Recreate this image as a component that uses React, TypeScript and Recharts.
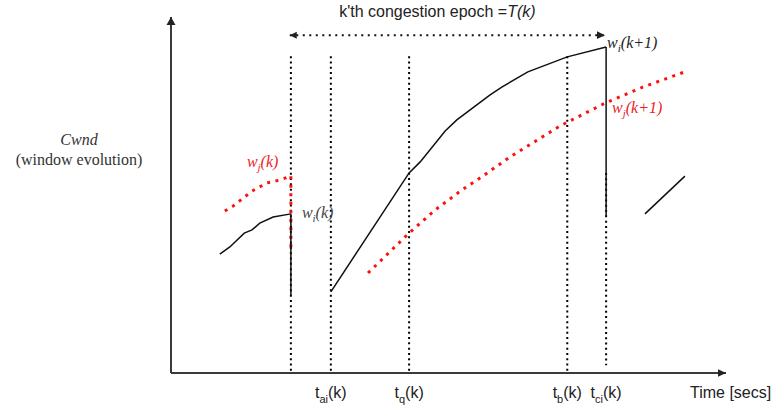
import React from 'react';
import { ComposedChart, Line, XAxis, YAxis, Scatter, ReferenceDot } from 'recharts';

// ---- data (time units 0..100, cwnd units 0..100) ----
const wiPrev = [
  { x: 8.8, y: 33.4 }, { x: 10.6, y: 35.4 }, { x: 13.2, y: 39.3 }, { x: 14.6, y: 40.2 },
  { x: 16.0, y: 42.1 }, { x: 18.4, y: 43.8 }, { x: 21.6, y: 44.7 },
];
const wiPrevDrop = [{ x: 21.6, y: 44.7 }, { x: 21.6, y: 21.9 }];
const wiEpoch = [
  { x: 28.8, y: 22.8 }, { x: 42.9, y: 56.2 }, { x: 44.9, y: 59.3 }, { x: 49.4, y: 68.0 },
  { x: 51.5, y: 71.1 }, { x: 57.5, y: 78.1 }, { x: 59.6, y: 80.3 }, { x: 64.3, y: 84.6 },
  { x: 71.4, y: 88.8 }, { x: 78.4, y: 91.6 },
];
const wiEpochDrop = [{ x: 78.4, y: 91.6 }, { x: 78.4, y: 44.1 }];
const wiNext = [{ x: 85.4, y: 44.7 }, { x: 92.6, y: 55.3 }];

const wjPrev = [
  { x: 9.7, y: 45.5 }, { x: 11.2, y: 46.9 }, { x: 14.6, y: 51.1 }, { x: 17.3, y: 53.4 },
  { x: 19.6, y: 54.2 }, { x: 21.6, y: 55.3 },
];
const wjPrevDrop = [{ x: 21.6, y: 55.3 }, { x: 21.6, y: 33.7 }];
const wjEpoch = [
  { x: 35.5, y: 28.1 }, { x: 42.9, y: 39.3 }, { x: 47.6, y: 45.8 }, { x: 52.4, y: 51.4 },
  { x: 56.0, y: 55.1 }, { x: 61.1, y: 60.7 }, { x: 70.1, y: 69.4 }, { x: 78.2, y: 75.8 },
  { x: 85.0, y: 80.3 }, { x: 92.6, y: 84.6 },
];

const guideLoss = [{ x: 21.6, y: 89.0 }, { x: 21.6, y: 0 }];
const guideAi = [{ x: 28.8, y: 89.0 }, { x: 28.8, y: 0 }];
const guideQ = [{ x: 42.9, y: 89.0 }, { x: 42.9, y: 0 }];
const guideB = [{ x: 71.4, y: 89.0 }, { x: 71.4, y: 0 }];
const guideCi = [{ x: 78.4, y: 56.2 }, { x: 78.4, y: 2.2 }];

const epochSpan = [{ x: 21.4, y: 94.9 }, { x: 78.2, y: 94.9 }];
const arrowLeft = [{ x: 21.4, y: 94.9 }];
const arrowRight = [{ x: 78.2, y: 94.9 }, { x: 100, y: 0 }];
const arrowUp = [{ x: 0, y: 100 }];

const tickTimes = [28.8, 42.9, 71.4, 78.4];
const tickSubs = ['ai', 'q', 'b', 'ci'];

const serif = '"Liberation Serif", "Times New Roman", serif';
const sans = '"Liberation Sans", Arial, Helvetica, sans-serif';
const RED = '#ff1010';
const RED_TXT = '#ec1c24';

const tri = (dir: string) => (props: any) => {
  const { cx, cy } = props;
  let pts = '';
  if (dir === 'left') pts = `${cx},${cy} ${cx + 7},${cy - 3.5} ${cx + 7},${cy + 3.5}`;
  if (dir === 'right') pts = `${cx},${cy} ${cx - 8},${cy - 3.8} ${cx - 8},${cy + 3.8}`;
  if (dir === 'up') pts = `${cx},${cy} ${cx - 4.5},${cy + 8} ${cx + 4.5},${cy + 8}`;
  return <polygon points={pts} fill="#222" />;
};

const XTick = (props: any) => {
  const { x, y, payload } = props;
  const i = tickTimes.indexOf(payload.value);
  if (i < 0) return null;
  return (
    <text x={x} y={y + 25} textAnchor="middle" fontFamily={sans} fontSize={16} fill="#222">
      <tspan>t</tspan>
      <tspan fontSize={11} dy={5}>{tickSubs[i]}</tspan>
      <tspan dy={-5}>(k)</tspan>
    </text>
  );
};

const wLabel = (sub: string, arg: string, color: string, dx: number, dy: number) => (p: any) => {
  const vb = p.viewBox || {};
  return (
    <text x={vb.x + dx} y={vb.y + dy} fontFamily={serif} fontStyle="italic" fontSize={16} fill={color}>
      <tspan>w</tspan>
      <tspan fontSize={11} dy={4}>{sub}</tspan>
      <tspan dy={-4}>{arg}</tspan>
    </text>
  );
};

const titleLabel = (p: any) => {
  const vb = p.viewBox || {};
  return (
    <text x={vb.x} y={vb.y - 18} textAnchor="middle" fontFamily={sans} fontSize={16} fill="#222">
      <tspan>k'th congestion epoch =</tspan>
      <tspan fontStyle="italic">T(k)</tspan>
    </text>
  );
};

const cwndLabel = (p: any) => {
  const vb = p.viewBox || {};
  return (
    <g>
      <text x={vb.x - 92} y={vb.y} textAnchor="middle" fontFamily={serif} fontStyle="italic" fontSize={16} fill="#333">Cwnd</text>
      <text x={vb.x - 92} y={vb.y + 20} textAnchor="middle" fontFamily={serif} fontSize={16} fill="#333">(window evolution)</text>
    </g>
  );
};

const timeLabel = (p: any) => {
  const vb = p.viewBox || {};
  return (
    <text x={vb.x - 36} y={vb.y + 25} fontFamily={sans} fontSize={16} fill="#222">Time [secs]</text>
  );
};

const guideStyle = { stroke: '#000', strokeWidth: 2, strokeDasharray: '2 3.3' };
const redStyle = { stroke: RED, strokeWidth: 3, strokeDasharray: '3 5.5' };
const blackStyle = { stroke: '#111', strokeWidth: 1.5 };

export default function App() {
  const lineProps = { type: 'linear' as const, dataKey: 'y', dot: false, activeDot: false, isAnimationActive: false, legendType: 'none' as const };
  return (
    <div style={{ position: 'absolute', left: 0, top: 0, width: 776, height: 410 }}>
      <ComposedChart width={776} height={410} margin={{ top: 17, right: 50, bottom: 0, left: 0 }}>
        <XAxis
          type="number"
          dataKey="x"
          domain={[0, 100]}
          height={37}
          ticks={tickTimes}
          interval={0}
          tickLine={false}
          tickSize={0}
          tickMargin={0}
          tick={<XTick />}
          axisLine={{ stroke: '#3a3a3a', strokeWidth: 2 }}
        />
        <YAxis
          type="number"
          dataKey="y"
          domain={[0, 100]}
          width={171}
          tick={false}
          tickLine={false}
          axisLine={{ stroke: '#3a3a3a', strokeWidth: 2 }}
        />
        <Line {...lineProps} data={guideLoss} {...guideStyle} />
        <Line {...lineProps} data={guideAi} {...guideStyle} />
        <Line {...lineProps} data={guideQ} {...guideStyle} />
        <Line {...lineProps} data={guideB} {...guideStyle} />
        <Line {...lineProps} data={guideCi} {...guideStyle} />
        <Line {...lineProps} data={epochSpan} stroke="#111" strokeWidth={2} strokeDasharray="2 4.5" />
        <Line {...lineProps} data={wjPrev} {...redStyle} />
        <Line {...lineProps} data={wjPrevDrop} {...redStyle} />
        <Line {...lineProps} data={wjEpoch} {...redStyle} />
        <Line {...lineProps} data={wiPrev} {...blackStyle} />
        <Line {...lineProps} data={wiPrevDrop} {...blackStyle} />
        <Line {...lineProps} data={wiEpoch} {...blackStyle} />
        <Line {...lineProps} data={wiEpochDrop} {...blackStyle} />
        <Line {...lineProps} data={wiNext} {...blackStyle} />
        <Scatter data={arrowLeft} shape={tri('left')} isAnimationActive={false} />
        <Scatter data={arrowRight} shape={tri('right')} isAnimationActive={false} />
        <Scatter data={arrowUp} shape={tri('up')} isAnimationActive={false} />
        <ReferenceDot x={48.0} y={94.9} r={0} fill="none" stroke="none" ifOverflow="visible" label={titleLabel} />
        <ReferenceDot x={0} y={64.0} r={0} fill="none" stroke="none" ifOverflow="visible" label={cwndLabel} />
        <ReferenceDot x={100} y={0} r={0} fill="none" stroke="none" ifOverflow="visible" label={timeLabel} />
        <ReferenceDot x={21.6} y={44.7} r={0} fill="none" stroke="none" ifOverflow="visible" label={wLabel('i', '(k)', '#444', 11, 4)} />
        <ReferenceDot x={21.6} y={55.3} r={0} fill="none" stroke="none" ifOverflow="visible" label={wLabel('j', '(k)', RED_TXT, -44, -9)} />
        <ReferenceDot x={78.4} y={91.6} r={0} fill="none" stroke="none" ifOverflow="visible" label={wLabel('i', '(k+1)', '#222', 1, 1)} />
        <ReferenceDot x={78.2} y={75.8} r={0} fill="none" stroke="none" ifOverflow="visible" label={wLabel('j', '(k+1)', RED_TXT, 7, 10)} />
      </ComposedChart>
    </div>
  );
}
